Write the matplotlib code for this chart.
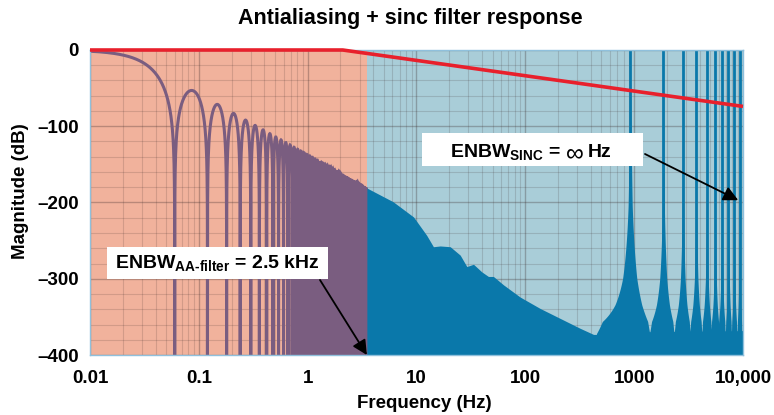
import matplotlib.pyplot as plt
import numpy as np
from matplotlib.patches import Rectangle
from matplotlib.ticker import LogLocator, MultipleLocator, NullFormatter

plt.rcParams['font.family'] = ['Liberation Sans', 'DejaVu Sans']
plt.rcParams['font.weight'] = 'bold'
plt.rcParams['mathtext.fontset'] = 'custom'
plt.rcParams['mathtext.rm'] = 'Liberation Sans:bold'
plt.rcParams['mathtext.bf'] = 'Liberation Sans:bold'
plt.rcParams['mathtext.it'] = 'Liberation Sans:bold'

## Values ##

x_ticks = [0.01, 0.1, 1, 10, 100, 1000, 10000]
x_tick_labels = ['0.01', '0.1', '1', '10', '100', '1000', '10,000']
y_ticks = [0, -100, -200, -300, -400]
y_tick_labels = ['0', '–100', '–200', '–300', '–400']

# antialiasing filter (red): flat then -20 dB/decade
aa_hz = [0.01, 2.1, 10000]
aa_db = [0, 0, -74]

# sinc response in the low band (null spacing, order, band edge)
sinc_null_hz = 0.06
sinc_order = 4
band_edge_hz = 3.5

# envelope of the response above the band edge
env_hz = [3.5, 6.1, 9.4, 12.4, 14.3, 16.5, 20.4, 25.2, 29.0, 33.4, 39.8,
          45.8, 50.9, 63, 89.6, 137, 209, 319, 423, 522, 601, 10000]
env_db = [-181, -199, -219, -243, -258, -257, -258, -269, -284, -281, -291,
          -297, -297, -308, -324, -339, -352, -365, -373, -373, -370, -368]

# images around multiples of the sample rate
spike_hz = [920, 1855, 2800, 3715, 4655, 5550, 6390, 7355, 8300, 9290]
spike_offset_hz = [0, 10, 25, 40, 78, 136, 253, 410, 470]
spike_db = [0, -60, -140, -205, -256, -299, -334, -356, -372]

## Colours ##
salmon = '#f1b29c'
light_blue = '#a9cdd8'
purple = '#7a5d80'
dark_blue = '#0a78aa'
red = '#e8202c'

## Curves ##
nulls = sinc_null_hz * np.arange(1, int(band_edge_hz / sinc_null_hz) + 1)
f_lo = np.unique(np.concatenate([np.arange(0.01, band_edge_hz, 0.0002), nulls, [band_edge_hz]]))
f_lo = f_lo[f_lo <= band_edge_hz]
lo_db = 20 * sinc_order * np.log10(np.abs(np.sinc(f_lo / sinc_null_hz)) + 1e-30)
lo_db = np.clip(lo_db, -410, 0)

f_hi = np.unique(np.concatenate([np.logspace(np.log10(band_edge_hz), 4, 4000),
                                 np.arange(4.0, 10000.0, 1.0)]))
hi_db = np.interp(np.log10(f_hi), np.log10(env_hz), env_db)
log_off = np.log10(np.array(spike_offset_hz) + 1.0)
for fk in spike_hz:
    prof = np.interp(np.log10(np.abs(f_hi - fk) + 1.0), log_off, spike_db, right=-500)
    hi_db = np.maximum(hi_db, prof)

## Plotting ##
fig = plt.figure(figsize=(7.74, 4.15), dpi=100)
W, H = 774, 415
ax = fig.add_axes((90 / W, 1 - 355 / H, 653 / W, 305 / H))

ax.set_xscale('log')
ax.set_xlim(0.01, 10000)
ax.set_ylim(-400, 0)

ax.axvspan(0.01, band_edge_hz, color=salmon, zorder=0.2, lw=0)
ax.axvspan(band_edge_hz, 10000, color=light_blue, zorder=0.2, lw=0)

ax.set_axisbelow(True)
ax.xaxis.set_minor_locator(LogLocator(base=10, subs=np.arange(2, 10)))
ax.xaxis.set_minor_formatter(NullFormatter())
ax.yaxis.set_minor_locator(MultipleLocator(20))
ax.grid(True, which='major', color='#3a2a2a', alpha=0.3, lw=1.0)
ax.grid(True, which='minor', color='#3a2a2a', alpha=0.17, lw=0.8)

ax.plot(f_lo, lo_db, color=purple, lw=2.2, zorder=2, solid_joinstyle='miter')
ax.fill_between(f_hi, -400, hi_db, color=dark_blue, lw=0, zorder=2)
ax.vlines(spike_hz, -400, 0, color=dark_blue, lw=2.0, zorder=2)

ax.plot(aa_hz, aa_db, color=red, lw=2.6, zorder=5, clip_on=False, solid_capstyle='butt')

ax.set_xticks(x_ticks)
ax.set_xticklabels(x_tick_labels)
ax.set_yticks(y_ticks)
ax.set_yticklabels(y_tick_labels)
ax.tick_params(which='both', length=0, labelsize=13.5)
ax.tick_params(axis='x', pad=11)
ax.tick_params(axis='y', pad=8)
for s in ax.spines.values():
    s.set_color('#8fc0dc')
    s.set_linewidth(1.0)

def px(x, y):
    return x / W, 1 - y / H

fig.text(*px(410, 24), 'Antialiasing + sinc filter response', ha='center', va='baseline',
         fontsize=15.5, fontweight='bold')
fig.text(*px(21, 191), 'Magnitude (dB)', ha='center', va='center', rotation=90,
         fontsize=13.5, fontweight='bold')
fig.text(*px(424, 403), 'Frequency (Hz)', ha='center', va='center',
         fontsize=13.5, fontweight='bold')

# annotation boxes
for (x0, y0, x1, y1) in [(422, 133, 643, 166), (107, 247, 328, 279)]:
    fig.patches.append(Rectangle(px(x0, y1), (x1 - x0) / W, (y1 - y0) / H,
                                 transform=fig.transFigure, facecolor='white',
                                 edgecolor='none', zorder=6))

fig.text(*px(561, 157), r'ENBW$_{\rm SINC}$ =', ha='right', va='baseline',
         fontsize=14, fontweight='bold', zorder=7)
fig.text(*px(575, 160), '∞', ha='center', va='baseline',
         fontsize=18, fontweight='normal', zorder=7)
fig.text(*px(588, 157), 'Hz', ha='left', va='baseline',
         fontsize=14, fontweight='bold', zorder=7)
fig.text(*px(217, 263), r'ENBW$_{\rm AA\text{-}filter}$ = 2.5 kHz', ha='center', va='center',
         fontsize=14, fontweight='bold', zorder=7)

arrow = dict(arrowstyle='-|>', mutation_scale=22, lw=1.3, color='black',
             shrinkA=0, shrinkB=0)
ax.annotate('', xy=(9040, -197), xycoords='data', xytext=px(645, 154),
            textcoords='figure fraction', arrowprops=arrow, zorder=8)
ax.annotate('', xy=(band_edge_hz, -400), xycoords='data', xytext=px(320, 280),
            textcoords='figure fraction', arrowprops=arrow, zorder=8)

fig.savefig('out.png', dpi=100)
